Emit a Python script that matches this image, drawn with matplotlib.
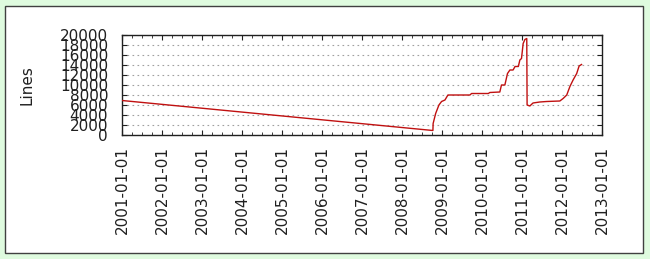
import matplotlib
matplotlib.use("Agg")
import matplotlib.pyplot as plt
import matplotlib.dates as mdates
from matplotlib.patches import Rectangle
import pandas as pd

# data
dates = ['2001-01-01', '2008-10-10', '2008-10-12', '2008-11-04', '2008-12-04',
         '2008-12-28', '2009-01-28', '2009-02-24', '2009-09-13', '2009-09-28',
         '2010-02-28', '2010-03-14', '2010-06-13', '2010-06-28', '2010-07-29',
         '2010-08-22', '2010-09-13', '2010-10-12', '2010-10-30', '2010-11-29',
         '2010-12-13', '2010-12-28', '2011-01-12', '2011-01-28', '2011-02-14',
         '2011-02-17', '2011-03-14', '2011-04-12', '2011-06-13', '2011-08-15',
         '2011-12-13', '2012-01-12', '2012-02-14', '2012-03-14', '2012-04-12',
         '2012-05-15', '2012-06-06', '2012-06-28']
lines = [6900, 900, 2300, 4300, 6000, 6700, 7000, 8000, 8000, 8300,
         8300, 8500, 8600, 10000, 10000, 12300, 13000, 13000, 13700, 13700,
         15000, 15300, 18300, 19100, 19300, 6000, 5800, 6400, 6600, 6700,
         6800, 7300, 8000, 9700, 11000, 12300, 13800, 14100]
y_ticks = list(range(0, 20001, 2000))
x_range = ['2001-01-01', '2013-01-01']

W, H = 650, 259
fig = plt.figure(figsize=(W / 100, H / 100), dpi=100, facecolor='#dffbdf')

# white panel with dark border, kept behind the axes
fig.patches.append(Rectangle((5 / W, 6 / H), 638 / W, 247 / H, transform=fig.transFigure,
                             fc='white', ec='#404040', lw=1.0, zorder=-10))

ax = fig.add_axes([122 / W, (H - 135) / H, 480 / W, 100 / H])
ax.set_facecolor('white')

x = pd.to_datetime(dates)
ax.plot(x, lines, color='#c01010', lw=1.0, zorder=3)

ax.set_xlim(pd.to_datetime(x_range[0]), pd.to_datetime(x_range[1]))
ax.set_ylim(0, 20000)
ax.set_yticks(y_ticks)
ax.yaxis.grid(True, color='#a0a0a0', linestyle=(0, (1.5, 3)), lw=0.8)
ax.set_axisbelow(True)

ax.xaxis.set_major_locator(mdates.YearLocator())
ax.xaxis.set_minor_locator(mdates.MonthLocator(bymonth=[4, 7, 10]))
ax.xaxis.set_major_formatter(mdates.DateFormatter('%Y-%m-%d'))

ax.tick_params(which='both', direction='in', top=True, right=True, color='#202020')
ax.tick_params(which='major', length=3.5, width=0.8)
ax.tick_params(which='minor', length=2.5, width=0.6)
ax.tick_params(axis='y', pad=10, labelsize=11, labelcolor='#202020')
ax.tick_params(axis='x', pad=8, labelsize=11, labelcolor='#202020', labelrotation=90)

for s in ax.spines.values():
    s.set_color('#202020')
    s.set_linewidth(1.0)

fig.text(27 / W, 1 - 85 / H, 'Lines', rotation=90, ha='center', va='center',
         fontsize=11, color='#202020')

fig.savefig('out.png', dpi=100, facecolor=fig.get_facecolor())
